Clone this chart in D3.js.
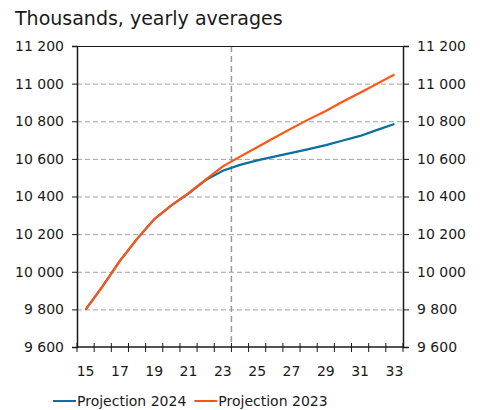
<html>
<head>
<meta charset="utf-8">
<style>
  body { margin: 0; background: white; }
  svg text { font-family: Verdana, 'DejaVu Sans', sans-serif; fill: #1a1a1a; }
</style>
</head>
<body>
<svg id="svg"></svg>
<script src="https://d3js.org/d3.v7.min.js"></script>
<script>

const years = [2015, 2016, 2017, 2018, 2019, 2020, 2021, 2022, 2023, 2024,
               2025, 2026, 2027, 2028, 2029, 2030, 2031, 2032, 2033];
const projection2024 = [9799, 9923, 10058, 10175, 10279, 10353, 10416, 10487, 10537, 10568,
                        10592, 10612, 10632, 10652, 10673, 10698, 10722, 10754, 10785];
const projection2023 = [9799, 9923, 10058, 10175, 10279, 10353, 10418, 10490, 10560, 10612,
                        10662, 10712, 10762, 10810, 10855, 10905, 10952, 11000, 11048];
const yTicks = [9600, 9800, 10000, 10200, 10400, 10600, 10800, 11000, 11200];
const xLabels = [2015, 2017, 2019, 2021, 2023, 2025, 2027, 2029, 2031, 2033];
const forecastStart = 2024;

const seriesList = [
  { name: "Projection 2024", values: projection2024, color: "#0b6e9e" },
  { name: "Projection 2023", values: projection2023, color: "#ff5511" }
];

const marginLeft = 77;
const marginRight = 77;
const marginTop = 46;
const marginBottom = 63;
const width = 480 - marginLeft - marginRight;
const height = 410 - marginTop - marginBottom;

const svg = d3.select("#svg")
    .attr("width", 480)
    .attr("height", 410);

svg.append("text")
    .attr("x", 15)
    .attr("y", 25)
    .attr("font-size", 19)
    .text("Thousands, yearly averages");

const xScale = d3.scaleBand()
    .domain(years)
    .range([0, width]);

const yScale = d3.scaleLinear()
    .domain([9600, 11200])
    .range([height, 0]);

const fmt = function(d) { return d3.format(",")(d).replace(/,/g, " "); };

const chart = svg.append("g")
    .attr("transform", `translate(${marginLeft}, ${marginTop})`);

// horizontal grid
chart.selectAll(".grid")
    .data(yTicks.slice(1, -1))
    .enter().append("line")
    .attr("x1", 0)
    .attr("x2", width)
    .attr("y1", function(d) { return yScale(d) + 0.5; })
    .attr("y2", function(d) { return yScale(d) + 0.5; })
    .attr("stroke", "#a0a0a0")
    .attr("stroke-width", 1)
    .attr("stroke-dasharray", "5,3");

// forecast divider
const xDiv = xScale(forecastStart);
chart.append("line")
    .attr("x1", xDiv)
    .attr("x2", xDiv)
    .attr("y1", 0)
    .attr("y2", height)
    .attr("stroke", "#999")
    .attr("stroke-width", 1.5)
    .attr("stroke-dasharray", "6,4");

// top border
chart.append("line")
    .attr("x1", 0).attr("x2", width)
    .attr("y1", 0.5).attr("y2", 0.5)
    .attr("stroke", "#1a1a1a");

// y axes
const leftAxis = chart.append("g")
    .call(d3.axisLeft(yScale).tickValues(yTicks).tickFormat(fmt).tickSize(5).tickPadding(8));
const rightAxis = chart.append("g")
    .attr("transform", `translate(${width}, 0)`)
    .call(d3.axisRight(yScale).tickValues(yTicks).tickFormat(fmt).tickSize(6).tickPadding(8));

// x axis: ticks on band boundaries, crossing the line
const xAxis = chart.append("g")
    .attr("transform", `translate(0, ${height})`);
xAxis.append("line")
    .attr("x1", 0).attr("x2", width)
    .attr("stroke", "#1a1a1a").attr("stroke-width", 1.5);
xAxis.selectAll(".xt")
    .data(years.concat([2034]))
    .enter().append("line")
    .attr("x1", function(d, i) { return i * xScale.step(); })
    .attr("x2", function(d, i) { return i * xScale.step(); })
    .attr("y1", -4).attr("y2", 5)
    .attr("stroke", "#1a1a1a");
xAxis.selectAll(".xl")
    .data(xLabels)
    .enter().append("text")
    .attr("x", function(d) { return xScale(d) + xScale.bandwidth() / 2; })
    .attr("y", 29)
    .attr("text-anchor", "middle")
    .attr("font-size", 14)
    .text(function(d) { return String(d).slice(2); });

[leftAxis, rightAxis].forEach(function(ax) {
  ax.select(".domain").attr("stroke", "#1a1a1a").attr("stroke-width", 1.5);
  ax.selectAll(".tick line").attr("stroke", "#1a1a1a");
  ax.selectAll("text").attr("font-size", 14).attr("fill", "#1a1a1a")
    .style("font-family", "Verdana, 'DejaVu Sans', sans-serif");
});

// lines
const line = d3.line()
    .x(function(d, i) { return xScale(years[i]) + xScale.bandwidth() / 2; })
    .y(function(d) { return yScale(d); });

seriesList.forEach(function(s) {
  chart.append("path")
      .datum(s.values)
      .attr("fill", "none")
      .attr("stroke", s.color)
      .attr("stroke-width", 2.2)
      .attr("d", line);
});

// legend
const legend = svg.append("g").attr("transform", "translate(53, 401)");
let lx = 0;
seriesList.forEach(function(s) {
  legend.append("line")
      .attr("x1", lx).attr("x2", lx + 23)
      .attr("y1", 0).attr("y2", 0)
      .attr("stroke", s.color).attr("stroke-width", 2);
  const t = legend.append("text")
      .attr("x", lx + 24)
      .attr("y", 5)
      .attr("font-size", 14)
      .text(s.name);
  lx += 24 + t.node().getComputedTextLength() + 8;
});

</script>
</body>
</html>
